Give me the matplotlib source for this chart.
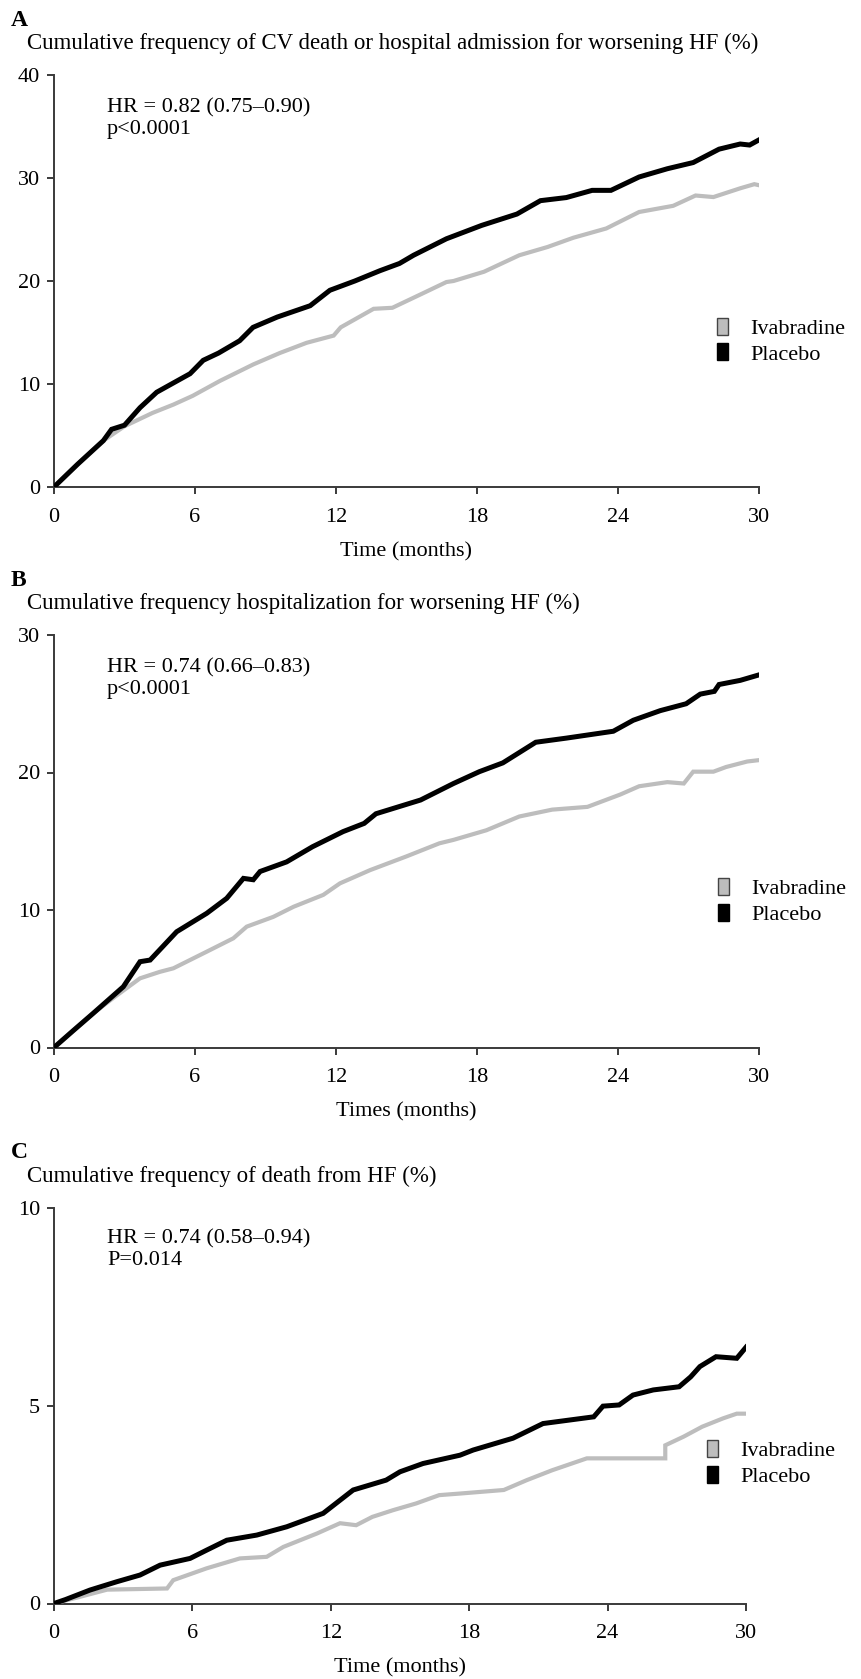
import matplotlib
matplotlib.use("Agg")
import matplotlib.pyplot as plt
from matplotlib.patches import Patch

plt.rcParams['font.family'] = ['Liberation Serif', 'DejaVu Serif']

# --- Panel A: CV death or hospital admission for worsening HF ---
a_plac_t = [0, 1, 2.1, 2.45, 3.0, 3.66, 4.37, 5.0, 5.79, 6.35, 7.0, 7.9, 8.47, 9.5, 10.9,
            11.74, 12.8, 13.87, 14.7, 15.3, 16.7, 18.2, 19.7, 20.7, 21.8, 22.9, 23.7,
            24.9, 26.1, 27.2, 28.3, 29.2, 29.6, 30.0]
a_plac = [0, 2.2, 4.5, 5.6, 6.0, 7.7, 9.2, 10.0, 11.0, 12.3, 13.0, 14.2, 15.5, 16.5, 17.6,
          19.1, 20.0, 21.0, 21.7, 22.5, 24.1, 25.4, 26.5, 27.8, 28.1, 28.8, 28.8,
          30.1, 30.9, 31.5, 32.8, 33.3, 33.2, 33.7]
a_ivab_t = [0, 1, 2.1, 3.0, 4.2, 5.08, 5.9, 7.06, 8.48, 9.6, 10.75, 11.9, 12.2, 13.6, 14.4,
            15.6, 16.7, 17.0, 18.3, 19.8, 21.0, 22.1, 23.5, 24.9, 26.35, 27.3, 28.06,
            29.2, 29.8, 30.0]
a_ivab = [0, 2.2, 4.5, 5.9, 7.2, 8.0, 8.85, 10.3, 11.9, 13.0, 14.0, 14.7, 15.5, 17.3, 17.4,
          18.7, 19.9, 20.0, 20.9, 22.5, 23.3, 24.2, 25.1, 26.7, 27.3, 28.3, 28.15,
          29.0, 29.4, 29.3]

# --- Panel B: hospitalization for worsening HF ---
b_plac_t = [0, 0.8, 1.67, 2.95, 3.66, 4.09, 5.22, 6.5, 7.35, 8.06, 8.48, 8.77, 9.9, 11.0,
            12.3, 13.2, 13.7, 15.6, 17.0, 18.1, 19.1, 20.5, 21.8, 23.8, 24.65, 25.8,
            26.9, 27.5, 28.1, 28.3, 29.2, 30.0]
b_plac = [0, 1.2, 2.49, 4.42, 6.24, 6.36, 8.42, 9.76, 10.85, 12.3, 12.2, 12.8, 13.5, 14.6,
          15.7, 16.3, 17.0, 18.0, 19.2, 20.06, 20.7, 22.2, 22.5, 23.0, 23.8, 24.5,
          25.0, 25.7, 25.9, 26.4, 26.7, 27.1]
b_ivab_t = [0, 0.8, 1.67, 2.6, 3.66, 4.5, 5.08, 6.5, 7.63, 8.2, 9.33, 10.2, 11.46, 12.17,
            13.45, 15.0, 16.4, 17.0, 18.4, 19.8, 21.2, 22.7, 24.1, 24.9, 26.1, 26.8,
            27.2, 28.06, 28.6, 29.5, 30.0]
b_ivab = [0, 1.2, 2.49, 3.7, 5.03, 5.5, 5.76, 6.97, 7.94, 8.79, 9.5, 10.24, 11.1, 11.94,
          12.9, 13.9, 14.85, 15.1, 15.8, 16.8, 17.3, 17.5, 18.4, 19.0, 19.3, 19.2,
          20.06, 20.06, 20.4, 20.8, 20.9]

# --- Panel C: death from HF ---
c_plac_t = [0, 0.5, 1.56, 2.72, 3.73, 4.6, 5.9, 6.62, 7.49, 8.79, 10.09, 11.67, 12.97,
            14.4, 15.0, 16.0, 17.6, 18.17, 19.9, 21.2, 23.4, 23.8, 24.5, 25.1, 25.98,
            27.1, 27.6, 28.0, 28.7, 29.6, 30.0]
c_plac = [0, 0.1, 0.34, 0.55, 0.72, 0.97, 1.14, 1.35, 1.6, 1.73, 1.94, 2.28, 2.87,
          3.12, 3.33, 3.54, 3.75, 3.88, 4.18, 4.55, 4.72, 4.99, 5.02, 5.27, 5.4,
          5.48, 5.73, 5.99, 6.24, 6.2, 6.48]
c_ivab_t = [0, 1.0, 2.3, 4.9, 5.17, 6.62, 8.06, 9.22, 9.94, 11.4, 12.4, 13.1, 13.8, 14.7,
            15.7, 16.7, 17.6, 19.5, 20.5, 21.6, 23.1, 26.5, 26.5, 27.3, 28.1, 29.0,
            29.6, 30.0]
c_ivab = [0, 0.15, 0.35, 0.38, 0.59, 0.89, 1.14, 1.18, 1.43, 1.77, 2.03, 1.98, 2.19, 2.36,
          2.53, 2.74, 2.78, 2.87, 3.12, 3.37, 3.67, 3.67, 4.0, 4.22, 4.47, 4.68,
          4.8, 4.8]

letters = ["A", "B", "C"]
titles = ["Cumulative frequency of CV death or hospital admission for worsening HF (%)",
          "Cumulative frequency hospitalization for worsening HF (%)",
          "Cumulative frequency of death from HF (%)"]
stats = ["HR = 0.82 (0.75\u20130.90)\np<0.0001",
         "HR = 0.74 (0.66\u20130.83)\np<0.0001",
         "HR = 0.74 (0.58\u20130.94)\nP=0.014"]
xlabels = ["Time (months)", "Times (months)", "Time (months)"]
y_max = [40, 30, 10]
y_ticks = [[0, 10, 20, 30, 40], [0, 10, 20, 30], [0, 5, 10]]
x_ticks = [0, 6, 12, 18, 24, 30]
group_names = ["Ivabradine", "Placebo"]

W, H = 862, 1679
fig = plt.figure(figsize=(W / 100, H / 100), dpi=100)

# axes boxes in pixels: left, right, top, bottom
boxes = [(54, 759, 75, 487), (54, 759, 635, 1047.5), (54, 746, 1208, 1603.5)]
legend_left = [717, 718, 707]
curves = [(a_ivab_t, a_ivab, a_plac_t, a_plac),
          (b_ivab_t, b_ivab, b_plac_t, b_plac),
          (c_ivab_t, c_ivab, c_plac_t, c_plac)]

gray = "#bdbdbd"
axis_col = "#3a3a3a"

for i in range(3):
    l, r, t, b = boxes[i]
    ax = fig.add_axes([l / W, 1 - b / H, (r - l) / W, (b - t) / H])
    ti, yi, tp, yp = curves[i]
    ax.plot(ti, yi, color=gray, lw=3.0, solid_joinstyle='miter', zorder=3)
    ax.plot(tp, yp, color="black", lw=3.6, solid_joinstyle='miter', zorder=4)

    ax.set_xlim(0, 30)
    ax.set_ylim(0, y_max[i])
    ax.set_xticks(x_ticks)
    ax.set_yticks(y_ticks[i])
    ax.tick_params(direction='out', length=5, width=1.4, color=axis_col,
                   labelsize=16, pad=5)
    ax.tick_params(axis='x', pad=10)
    for s in ["top", "right"]:
        ax.spines[s].set_visible(False)
    for s in ["left", "bottom"]:
        ax.spines[s].set_color(axis_col)
        ax.spines[s].set_linewidth(1.4)
        ax.spines[s].set_clip_on(False)
    ax.set_xlabel(xlabels[i], fontsize=16, labelpad=11)

    ax.text(53 / (r - l), 0.895, stats[i], transform=ax.transAxes,
            fontsize=16, va='center', ha='left', linespacing=1.2)

    handles = [Patch(facecolor=gray, edgecolor="#444444", lw=1.0),
               Patch(facecolor="black", edgecolor="black", lw=1.0)]
    ax.legend(handles, group_names, loc='center left',
              bbox_to_anchor=((legend_left[i] - l) / (r - l), 0.354),
              frameon=False, fontsize=16, borderpad=0, borderaxespad=0,
              handlelength=0.5, handleheight=0.8, handletextpad=1.0,
              labelspacing=0.2)

    # panel letter and title above the axes
    fig.text(11 / W, 1 - (t - 55) / H, letters[i], fontsize=17, fontweight='bold',
             va='center', ha='left')
    fig.text(27 / W, 1 - (t - 32) / H, titles[i], fontsize=16.5,
             va='center', ha='left')

fig.savefig("out.png", dpi=100, facecolor="white")
